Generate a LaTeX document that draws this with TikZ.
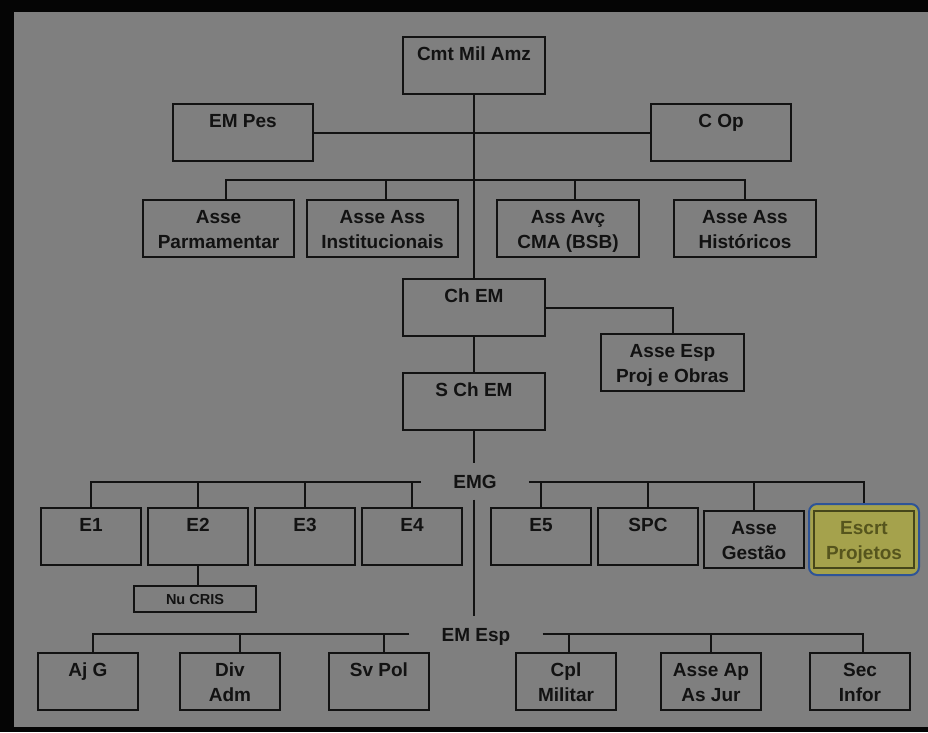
\documentclass[tikz,border=0pt]{standalone}
\usepackage{fontspec}
\setmainfont{Liberation Sans}
\usepackage{xcolor}
\usetikzlibrary{positioning,calc,fit,backgrounds}
\definecolor{Frame}{HTML}{050505}
\definecolor{Slate}{HTML}{7F7F7F}
\definecolor{Ink}{HTML}{121212}
\definecolor{Olive}{HTML}{A5A24C}
\definecolor{OliveInk}{HTML}{56551D}
\definecolor{OliveLine}{HTML}{46461A}
\definecolor{Ring}{HTML}{2E5497}
\tikzset{
  box/.style={draw=Ink,line width=2pt,anchor=north west,minimum width=100pt,minimum height=57pt,inner xsep=2pt,inner ysep=0pt,text height=23pt,text depth=34pt,align=center,font=\bfseries\fontsize{19}{25}\selectfont,text=Ink},
  twoline/.style={text height=48pt,text depth=9pt},
  smallbox/.style={box,minimum width=122pt,minimum height=26pt,text height=10pt,text depth=0pt,font=\bfseries\fontsize{14.5}{16}\selectfont},
  hotbox/.style={box,draw=OliveLine,fill=Olive,text=OliveInk},
  ring/.style={draw=Ring,fill=Olive,line width=2pt,rounded corners=8pt,inner xsep=4pt,inner ysep=6pt},
  hub/.style={inner xsep=32pt,inner ysep=0pt,minimum height=36pt,text height=14pt,text depth=0pt,font=\bfseries\fontsize{19}{25}\selectfont,text=Ink},
  conn/.style={draw=Ink,line width=2pt}
}
\begin{document}
\begin{tikzpicture}[x=1pt,y=-1pt,node distance=5pt]
  \useasboundingbox (0,0) rectangle (928,732);
  \begin{scope}[on background layer]
    \fill[Frame] (0,0) rectangle (928,732);
    \fill[Slate] (14,12) rectangle (928,727);
  \end{scope}
  % top levels
  \node[box,minimum width=142pt] (cmt) at (402,36) {Cmt Mil Amz};
  \node[box,minimum width=140pt] (empes) at (172,103) {EM Pes};
  \node[box,minimum width=140pt] (cop) at (650,103) {C Op};
  \node[box,twoline,minimum width=151pt] (parl) at (142,199) {Asse\\Parmamentar};
  \node[box,twoline,minimum width=151pt] (inst) at (306,199) {Asse Ass\\Institucionais};
  \node[box,twoline,minimum width=142pt] (avc) at (496,199) {Ass Avç\\CMA (BSB)};
  \node[box,twoline,minimum width=142pt] (hist) at (673,199) {Asse Ass\\Históricos};
  \node[box,minimum width=142pt] (chem) at (402,278) {Ch EM};
  \node[box,twoline,minimum width=143pt] (esp) at (600,333) {Asse Esp\\Proj e Obras};
  \node[box,minimum width=142pt] (schem) at (402,372) {S Ch EM};
  \node[hub] (emg) at (475,481.5) {EMG};
  \node[hub] (emesp) at (476,634) {EM Esp};
  % EMG row
  \node[box] (e1) at (40,507) {E1};
  \node[box,right=of e1] (e2) {E2};
  \node[box,right=of e2] (e3) {E3};
  \node[box,right=of e3] (e4) {E4};
  \node[smallbox] (nucris) at (133,585) {Nu CRIS};
  \node[box] (e5) at (490,507) {E5};
  \node[box,right=of e5] (spc) {SPC};
  \node[box,twoline] (gestao) at (703,510) {Asse\\Gestão};
  \node[hotbox,twoline,right=8pt of gestao] (escrt) {Escrt\\Projetos};
  \begin{scope}[on background layer]
    \node[ring,fit=(escrt)] (escrtring) {};
  \end{scope}
  % EM Esp row
  \node[box] (ajg) at (37,652) {Aj G};
  \node[box,twoline] (divadm) at (179,652) {Div\\Adm};
  \node[box] (svpol) at (328,652) {Sv Pol};
  \node[box,twoline] (cpl) at (515,652) {Cpl\\Militar};
  \node[box,twoline] (aseap) at (660,652) {Asse Ap\\As Jur};
  \node[box,twoline] (secinf) at (809,652) {Sec\\Infor};
  % connectors
  \coordinate (r2) at (473,180);
  \draw[conn] (cmt.south) -- (chem.north);
  \draw[conn] (empes.east) -- (cop.west);
  \draw[conn] ([xshift=7pt]parl.north) |- (r2) -| (hist.north);
  \draw[conn] ([xshift=3pt]inst.north) -- ([xshift=3pt]inst.north |- r2);
  \draw[conn] ([xshift=7pt]avc.north) -- ([xshift=7pt]avc.north |- r2);
  \draw[conn] (chem.east) -| (esp.north);
  \draw[conn] (chem.south) -- (schem.north);
  \draw[conn] (schem.south) -- (schem.south |- emg.north);
  \draw[conn] (schem.south |- emg.south) -- (schem.south |- emesp.north);
  \draw[conn] (emg.west) -| (e1.north);
  \foreach \n in {e2,e3,e4,e5,spc,gestao}
    \draw[conn] (\n.north) -- (\n.north |- emg.west);
  \draw[conn] (emg.east) -| (escrtring.north);
  \draw[conn] (e2.south) -- (e2.south |- nucris.north);
  \draw[conn] (emesp.west) -| ([xshift=5pt]ajg.north);
  \draw[conn] ([xshift=10pt]divadm.north) -- ([xshift=10pt]divadm.north |- emesp.west);
  \draw[conn] ([xshift=5pt]svpol.north) -- ([xshift=5pt]svpol.north |- emesp.west);
  \draw[conn] ([xshift=3pt]cpl.north) -- ([xshift=3pt]cpl.north |- emesp.east);
  \draw[conn] (aseap.north) -- (aseap.north |- emesp.east);
  \draw[conn] (emesp.east) -| ([xshift=3pt]secinf.north);
\end{tikzpicture}
\end{document}
